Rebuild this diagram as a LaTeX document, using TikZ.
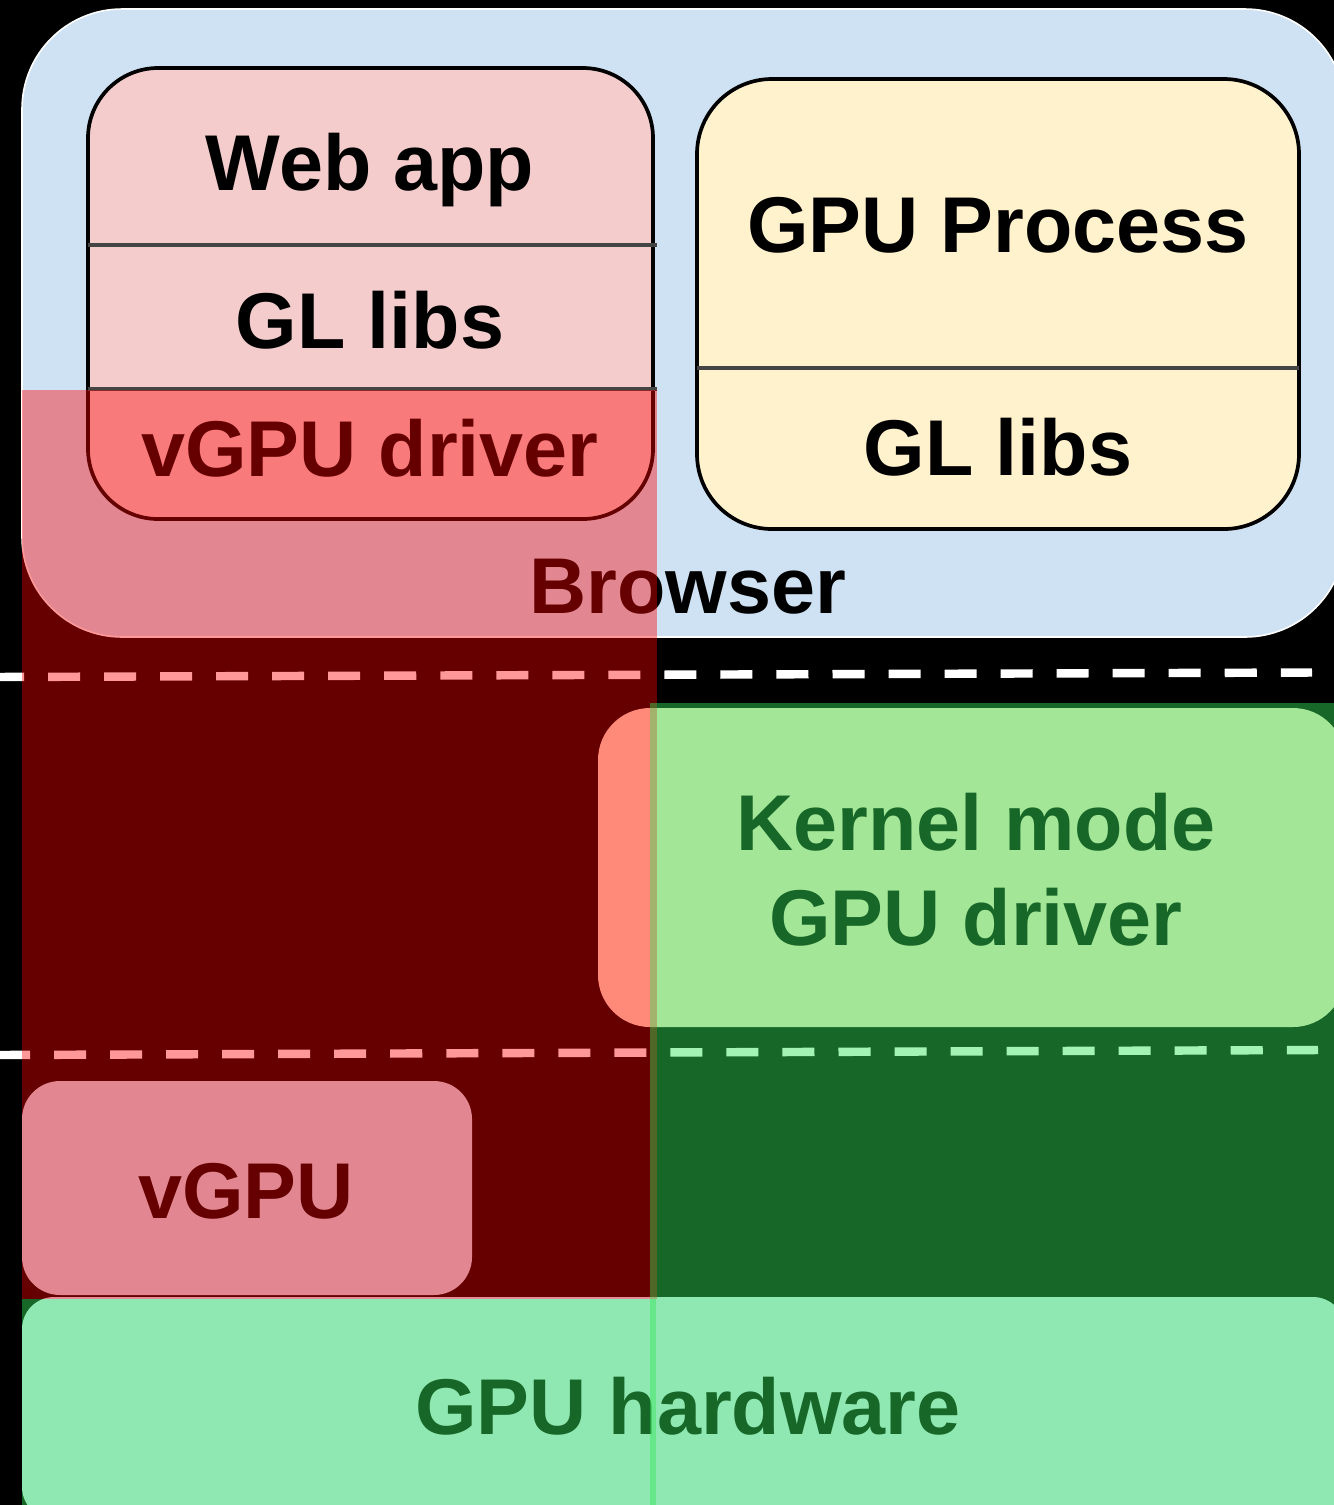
\documentclass[tikz,border=0pt]{standalone}
\usepackage{fontspec}
\setmainfont{Liberation Sans}
\definecolor{browserblue}{RGB}{207,226,243}
\definecolor{webpink}{RGB}{244,204,204}
\definecolor{gpuyellow}{RGB}{255,242,204}
\definecolor{kernelpeach}{RGB}{255,230,204}
\definecolor{hwblue}{RGB}{218,232,252}
\definecolor{veilgreen}{RGB}{53,231,89}
\definecolor{divgray}{RGB}{68,68,68}
\begin{document}
\begin{tikzpicture}[x=0.01cm,y=-0.01cm,
  lbl/.style={font=\fontsize{22.5}{27}\selectfont\bfseries, text=black, inner sep=0pt, anchor=base},
  divider/.style={draw=divgray, line width=0.95pt},
  boxline/.style={draw=black, line width=1.05pt},
  sepline/.style={draw=white, line width=2.4pt, dash pattern=on 0.32cm off 0.24cm},
  redveil/.style={fill=red, fill opacity=0.4},
  greenveil/.style={fill=veilgreen, fill opacity=0.45}]
\useasboundingbox (0,0) rectangle (1334,1505);
\fill[black] (0,0) rectangle (1334,1505);
% Browser
\draw[fill=browserblue, draw=white, line width=0.45pt, rounded corners=1cm] (22,9) rectangle (1345,637);
% Web app stack
\draw[boxline, fill=webpink, rounded corners=0.7cm] (88,68) rectangle (653,519);
\draw[divider] (88,245) -- (657,245);
\draw[divider] (88,389) -- (657,389);
% GPU process stack
\draw[boxline, fill=gpuyellow, rounded corners=0.75cm] (697,79) rectangle (1299,529);
\draw[divider] (697,368) -- (1299,368);
% labels in browser
\node[lbl] (webapp) at (370,190) {Web app};
\node[lbl] (gllibsA) at (370,348) {GL libs};
\node[lbl] (vgpudrv) at (370,476) {vGPU driver};
\node[lbl] (gpuproc) at (998,252) {GPU Process};
\node[lbl] (gllibsB) at (998,475) {GL libs};
\node[lbl] (browser) at (688,613) {Browser};
% separators
\draw[sepline] (-8,677) -- (1312,672.5);
\draw[sepline] (-2,1055) -- (1318,1050);
% kernel driver
\fill[kernelpeach, rounded corners=0.52cm] (598,708) rectangle (1345,1027);
\node[lbl] (kern1) at (976,850) {Kernel mode};
\node[lbl] (kern2) at (976,945) {GPU driver};
% vGPU
\fill[browserblue, rounded corners=0.38cm] (22,1081) rectangle (472,1295);
\node[lbl] (vgpu) at (246,1218) {vGPU};
% hardware
\fill[hwblue, rounded corners=0.32cm] (22,1297) rectangle (1345,1519);
\node[lbl] (hw) at (688,1434) {GPU hardware};
% veils
\fill[redveil] (22,390) rectangle (657,1299);
\fill[greenveil] (650,703) rectangle (1345,1520);
\fill[greenveil] (22,1299) rectangle (656,1520);
\end{tikzpicture}
\end{document}
